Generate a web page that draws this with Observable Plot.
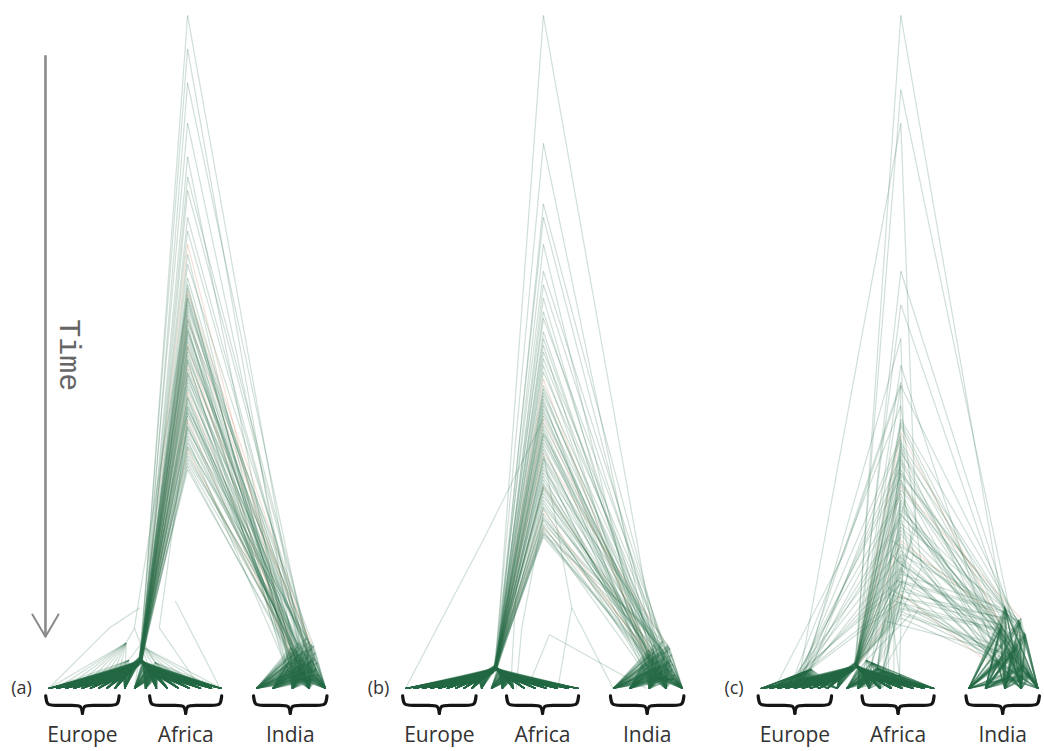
<!DOCTYPE html>
<html><head><meta charset="utf-8">
<script src="https://cdn.jsdelivr.net/npm/d3@7"></script>
<script src="https://cdn.jsdelivr.net/npm/@observablehq/plot@0.6"></script>
<style>html,body{margin:0;padding:0;background:#fff;overflow:hidden}#chart{position:absolute;left:0;top:0}</style>
</head><body><div id="chart"></div>
<script>
// ---- data (x in leaf units within a panel, y = time height above the leaves) ----
const panels = ["(a)", "(b)", "(c)"];
const panelOffset = [0, 128.8, 257.1];
const rootX = [50.2, 49.8, 50.5];
const europeLeaves = [0, 3, 6, 9, 12, 15, 18, 21, 24, 27.5];
const africaLeaves = [31, 35, 39, 43, 47, 51, 55, 59, 62.5];
const indiaLeaves = [75, 81, 88, 94, 100];
const regions = ["Europe", "Africa", "India"];
const regionSpan = [[-1, 25.5], [36.5, 62.5], [74, 100.5]];
// inner nodes of the Europe and Africa clades (offset from the Europe+Africa node, height share)
const europeNodeDX = [-3, -5, -1.5, -6, -2.5, -4, -1, -5.5];
const europeNodeH = [0.75, 0.6, 0.85, 0.5, 0.8, 0.65, 0.9, 0.55];
const africaNodeDX = [2.5, 4.5, 1.5, 6, 3, 5, 1, 3.5];
const africaNodeH = [0.7, 0.55, 0.85, 0.5, 0.75, 0.6, 0.9, 0.65];
// Africa clade node in trees of the ((Africa,India),Europe) kind
const africaCladeX = [42, 46, 40, 48, 44, 50, 38, 45];
const africaCladeH = [3.0, 2.2, 3.8, 1.8, 2.6, 2.0, 4.2, 2.4];

// tree rows: [rootHeight, eaNodeX, eaNodeH, indiaNodeX, indiaNodeH, topology]
// topology 0 = ((Europe,Africa),India), 1 = same with second colour,
// 2 = ((Africa,India),Europe): [rootH, europeX, europeH, indiaX, indiaH, 2, afrIndX, afrIndH]
const treesA = [
[100,33.2,4.2,92.3,3.1,0],[95,33.0,4.5,88.6,5.2,0],[90,33.5,4.0,95.4,1.9,0],[84,32.8,4.4,90.1,6.8,0],
[79,33.3,4.1,86.7,4.0,0],[74,33.6,3.9,97.2,1.3,0],[70,33.1,4.3,93.5,4.7,0],[66,32.9,4.6,89.4,2.6,1],
[63,33.4,4.0,94.8,5.9,0],[61,33.2,4.2,91.1,3.6,0],[60,33.0,4.4,87.9,2.2,0],[59,33.5,3.8,96.1,4.4,1],
[58,33.1,4.2,90.8,1.6,0],[57,32.7,4.7,93.0,7.5,0],[56,33.3,4.1,88.1,3.3,0],[55,33.6,3.9,95.9,2.8,1],
[54.5,33.0,4.3,91.7,5.5,0],[54,33.2,4.2,86.2,2.0,0],[53,33.4,4.0,94.2,3.9,0],[52.5,32.9,4.5,89.9,6.2,0],
[52,33.1,4.3,92.8,1.5,0],[51,33.5,3.9,87.4,4.8,1],[50.5,33.2,4.2,96.6,3.0,0],[50,33.0,4.4,90.5,2.4,0],
[49,33.3,4.1,93.8,5.0,0],[48.5,33.7,3.7,88.9,1.8,0],[48,33.1,4.3,95.0,6.5,1],[47,32.8,4.6,91.4,2.9,0],
[46.5,33.4,4.0,86.9,3.7,0],[46,33.2,4.2,97.5,2.1,0],[45,33.0,4.4,92.0,4.2,0],[44,33.5,3.9,89.1,5.8,1],
[43.5,33.1,4.3,94.5,1.4,0],[43,33.3,4.1,90.3,3.4,0],[42,32.9,4.5,87.6,6.0,0],[41.5,33.6,3.8,95.6,4.6,0],
[41,33.2,4.2,91.9,2.3,0],[40,33.0,4.4,88.3,3.9,1],[39,33.4,4.0,93.3,1.7,0],[38.5,33.1,4.3,96.3,5.3,0],
[38,32.8,4.6,90.0,4.9,0],[37,33.3,4.1,86.4,2.7,0],[36,33.5,3.9,94.0,6.9,0],[35.5,33.2,4.2,92.6,2.0,1],
[35,33.0,4.4,89.6,4.3,0],[34,33.4,4.0,95.2,3.2,0],[33,33.1,4.3,91.0,1.9,0],[32.5,33.2,4.2,87.2,5.4,0],
[58,31.0,9.0,93.6,3.5,0],[41,34.0,7.0,96.8,1.6,0],
[59.5,33.3,4.1,88.4,2.5,0],[58.5,33.0,4.4,92.9,5.7,0],[57.5,33.4,4.0,90.6,3.0,0],[56.5,33.1,4.3,94.9,4.1,0],
[55.5,32.9,4.5,87.0,2.1,0],[54.8,33.5,3.9,95.7,6.3,0],[53.5,33.2,4.2,91.6,1.5,0],[53.2,33.0,4.4,89.2,4.5,0],
[51.5,33.4,4.0,93.1,2.6,0],[50.8,33.1,4.3,97.0,3.8,0],[49.5,33.3,4.1,90.4,5.1,0],[48.8,32.8,4.6,86.0,3.3,0],
[47.5,33.5,3.9,94.3,1.8,0],[46.8,33.2,4.2,92.1,6.6,0],[45.5,33.0,4.4,88.8,2.9,0],[44.5,33.4,4.0,95.3,4.0,0],
[43.2,33.1,4.3,91.3,2.2,0],[42.5,33.3,4.1,87.8,4.9,0],[41.8,32.9,4.5,93.9,3.6,0],[40.5,33.6,3.8,96.0,1.4,0],
[39.5,33.2,4.2,89.5,5.6,0],[38.8,33.0,4.4,92.4,2.4,0],[37.5,33.4,4.0,90.9,4.4,0],[36.5,33.1,4.3,94.7,3.1,0],
[35.8,33.3,4.1,87.3,6.1,0],[34.5,32.8,4.6,95.8,2.0,0],[33.5,33.5,3.9,91.8,3.7,0],[64.5,33.2,4.2,88.0,1.7,0],
[68,33.0,4.4,93.4,5.2,0],[76,33.3,4.1,96.5,2.7,0]
];
const treesB = [
[100,32.5,3.0,91.5,3.4,0],[81,32.2,3.3,88.2,5.0,0],[72,32.8,2.8,95.1,2.1,0],[70,32.4,3.1,89.8,6.5,0],
[66,32.6,2.9,86.5,3.8,0],[62,32.1,3.4,96.9,1.5,0],[60,32.9,2.7,93.2,4.5,0],[58,32.5,3.0,89.0,2.8,0],
[55,32.3,3.2,94.4,5.6,0],[53,32.7,2.9,90.7,3.2,0],[51,32.4,3.1,87.5,2.4,0],[50,32.6,2.9,95.8,4.1,0],
[48,32.2,3.3,90.4,1.8,0],[47,32.8,2.8,92.7,7.0,0],[46,32.5,3.0,88.5,3.0,1],[45,32.3,3.2,96.2,2.6,0],
[44,32.7,2.9,91.2,5.2,0],[43,32.4,3.1,86.8,2.2,0],[42,32.6,2.9,93.9,3.6,0],[41,32.1,3.4,89.3,5.9,0],
[40,32.9,2.7,92.5,1.7,1],[39,32.5,3.0,87.1,4.6,0],[38,32.3,3.2,96.4,2.9,0],[37.5,32.7,2.9,90.2,2.3,0],
[37,32.4,3.1,93.6,4.8,0],[36,32.6,2.9,88.7,1.9,0],[35,32.2,3.3,94.8,6.2,1],[34,32.8,2.8,91.0,2.7,0],
[33,32.5,3.0,87.0,3.5,0],[32,32.3,3.2,97.3,2.0,0],[31,32.7,2.9,91.8,4.0,0],[30,32.4,3.1,89.4,5.5,1],
[29.5,32.6,2.9,94.1,1.6,0],[29,32.1,3.4,90.0,3.1,0],[28,32.9,2.7,87.7,5.7,0],[27,32.5,3.0,95.5,4.3,0],
[26.5,32.3,3.2,92.2,2.1,1],[26,32.7,2.9,88.0,3.7,0],[25,32.4,3.1,93.0,1.5,0],[24.5,32.6,2.9,96.0,5.0,0],
[24,32.2,3.3,89.7,4.6,1],[23.5,32.8,2.8,86.3,2.5,0],[23,32.5,3.0,94.6,6.4,0],[22.5,32.4,3.1,92.9,1.9,0],
[44.5,32.5,3.0,89.1,4.0,0],[43.5,32.3,3.2,95.0,3.0,0],[42.5,32.7,2.9,90.8,1.7,0],[41.5,32.4,3.1,87.4,5.1,0],
[40.5,32.6,2.9,93.3,3.3,0],[39.5,32.2,3.3,96.7,1.5,0],[38.5,32.8,2.8,88.3,2.3,0],[36.5,32.5,3.0,92.6,5.4,0],
[35.5,32.3,3.2,90.5,2.8,0],[34.5,32.7,2.9,94.3,3.9,0],[33.5,32.4,3.1,86.9,2.0,0],[32.5,32.6,2.9,95.4,6.0,0],
[31.5,32.2,3.3,91.4,1.5,0],[30.5,32.8,2.8,89.5,4.2,0],[30.2,32.5,3.0,92.8,2.5,0],[28.5,32.3,3.2,96.5,3.6,0],
[27.5,32.7,2.9,90.1,4.8,0],[26.8,32.4,3.1,86.1,3.1,0],[25.5,32.6,2.9,94.0,1.7,0],[25.2,32.1,3.4,91.9,6.2,0],
[24.2,32.9,2.7,88.6,2.7,0],[23.8,32.5,3.0,95.2,3.8,0],[23.2,32.3,3.2,91.1,2.1,0],[22.8,32.7,2.9,87.9,4.6,0],
[37.8,32.4,3.1,93.7,3.4,0],[34.2,32.6,2.9,96.1,1.5,0],[29.8,32.2,3.3,89.6,5.3,0],[56,32.5,3.0,92.3,2.2,0],
[52,32.3,3.2,90.9,4.1,0],[49,32.7,2.9,94.5,2.9,0]
];
const treesC = [
[100,34.3,3.4,90.2,5.1,0],[89,34.0,3.7,94.1,3.0,0],[84,14,2.0,86.3,8.8,2,56,24],[62,34.5,3.2,96.8,2.2,0],
[57,33.8,3.8,88.4,11.5,0],[52,16,2.5,92.1,6.2,2,52,30],[48,34.3,3.4,85.2,4.1,0],[45,34.6,3.1,95.3,7.7,0],
[42,12,1.8,89.6,1.6,2,58,18],[40,34.1,3.6,93.2,9.6,0],[39,34.4,3.3,90.7,4.6,0],[38,34.0,3.7,94.5,3.3,1],
[37,18,2.8,86.9,9.2,2,50,26],[36,34.5,3.2,97.1,1.9,0],[35,34.2,3.5,88.0,12.2,0],[34,33.9,3.8,91.7,5.8,0],
[33,15,2.2,85.6,3.7,2,47,20],[32,34.3,3.4,95.0,8.3,0],[31,34.6,3.1,89.1,1.4,0],[30,34.0,3.6,93.8,10.4,1],
[29,13,2.0,90.4,5.4,2,55,24],[28,34.4,3.3,94.8,2.7,0],[27,34.1,3.6,86.1,8.5,0],[26,34.5,3.2,96.5,2.4,0],
[25,17,2.6,88.7,11.0,2,49,16],[24,33.8,3.9,92.4,6.6,0],[23,34.3,3.4,85.0,4.4,0],[22,34.6,3.1,95.7,7.2,1],
[21,14,2.1,89.9,1.8,2,53,17],[20,34.0,3.7,93.5,9.9,0],[19.5,34.4,3.3,90.0,4.8,0],[19,34.2,3.5,94.3,3.5,0],
[18,16,2.4,86.6,9.5,2,46,14],[17.5,34.5,3.2,97.4,1.6,0],[17,33.9,3.8,88.2,11.8,0],[16,34.3,3.4,92.0,6.0,0],
[15.5,12,1.7,85.4,3.9,2,57,12],[15,34.1,3.6,95.5,8.0,0],[14,34.6,3.1,89.3,1.5,1],[13.5,34.0,3.7,93.0,10.1,0],
[13,18,2.9,90.9,5.0,2,45,10],[12.5,34.4,3.3,94.0,2.9,0],[12,34.2,3.5,86.4,8.9,0],[11.5,34.5,3.2,96.9,2.1,0],
[11,34.0,3.6,88.5,6.0,0],
[39.5,34.3,3.4,92.3,5.9,0],[37.5,14,2.0,85.1,4.2,2,52,28],[36.5,34.0,3.7,95.2,7.9,0],[35.5,34.5,3.2,89.7,1.7,0],
[34.5,16,2.5,93.4,9.8,2,47,22],[33.5,34.2,3.5,90.5,4.9,0],[32.5,34.4,3.3,94.6,3.2,0],[31.5,13,1.9,86.2,8.7,2,55,20],
[30.5,34.1,3.6,97.0,2.0,0],[29.5,34.6,3.1,88.3,11.7,0],[28.5,17,2.7,92.6,6.4,2,49,19],[27.5,34.0,3.7,85.5,4.0,0],
[26.5,34.3,3.4,95.4,8.1,0],[25.5,15,2.3,89.0,1.5,2,53,21],[24.5,34.5,3.2,93.1,10.2,0],[23.5,34.2,3.5,90.3,5.2,0],
[22.5,12,1.8,94.2,2.8,2,46,15],[21.5,34.4,3.3,86.8,9.1,0],[20.5,34.0,3.7,96.6,2.3,0],[19.8,18,2.9,88.6,11.3,2,51,16],
[18.5,34.3,3.4,92.2,6.1,0],[17.8,34.6,3.1,85.3,3.8,0],[16.5,14,2.1,95.6,7.6,2,48,13],[15.8,34.1,3.6,89.4,1.6,0],
[14.5,34.4,3.3,93.6,9.7,0],[13.8,16,2.5,90.6,4.7,2,54,11],[12.8,34.2,3.5,94.7,3.4,0],[11.8,34.5,3.2,86.0,8.6,0],
[10.5,34.0,3.7,97.2,1.8,0],[45.5,15,2.3,88.1,11.9,2,50,32]
];
// odd branches of rarer trees: [x1, h1, x2, h2]
const extraA = [[45.8,13,62,0],[40,9,55,0],[50.2,40,40,9],[0,0,22,9],[22,9,33,12]];
const extraB = [[0,0,28,22],[28,22,49.8,40],[38,0,40,15],[40,15,49.8,30],[55,0,60,12],[60,12,75,0],
                [60,12,49.8,35],[44,0,52,8],[52,8,87,0],[40,0,42,9],[42,9,49.8,26]];
const extraC = [[5,0,30,20],[30,20,50.5,45]];

// ---- build links ----
const links = [];
function add(p, x1, h1, x2, h2, topo) {
  links.push({x1: panelOffset[p] + x1, y1: h1, x2: panelOffset[p] + x2, y2: h2, topo});
}
[treesA, treesB, treesC].forEach((trees, p) => {
  const rx = rootX[p];
  trees.forEach((t, i) => {
    const [hr, ex, eh, ix, ih, topo, ax, ah] = t;
    const v = i % europeNodeDX.length;
    if (topo === 2) {
      add(p, rx, hr, ex, eh, 0);
      europeLeaves.forEach(l => add(p, ex, eh, l, 0, 0));
      add(p, rx, hr, ax, ah, 0);
      const cx = africaCladeX[v], ch = africaCladeH[v];
      add(p, ax, ah, cx, ch, 0);
      africaLeaves.forEach(l => add(p, cx, ch, l, 0, 0));
      add(p, ax, ah, ix, ih, 0);
      indiaLeaves.forEach(l => add(p, ix, ih, l, 0, 0));
    } else {
      add(p, rx, hr, ex, eh, topo);
      const enx = ex + europeNodeDX[v], enh = eh * europeNodeH[v];
      const anx = ex + africaNodeDX[v], anh = eh * africaNodeH[v];
      add(p, ex, eh, enx, enh, 0);
      add(p, ex, eh, anx, anh, 0);
      europeLeaves.forEach(l => add(p, enx, enh, l, 0, 0));
      africaLeaves.forEach(l => add(p, anx, anh, l, 0, 0));
      add(p, rx, hr, ix, ih, topo);
      indiaLeaves.forEach(l => add(p, ix, ih, l, 0, 0));
    }
  });
});
[extraA, extraB, extraC].forEach((ex, p) => ex.forEach(e => add(p, e[0], e[1], e[2], e[3], 0)));
links.sort((a, b) => b.topo - a.topo);

// braces
const braces = [];
panels.forEach((pl, p) => regionSpan.forEach(([l, r], k) => {
  const o = panelOffset[p], m = (l + r) / 2;
  const left = [[l, -1.1], [l + 0.4, -2.5], [l + 3, -2.5], [m - 3, -2.5], [m - 0.4, -2.5], [m, -3.7]];
  const right = [[r, -1.1], [r - 0.4, -2.5], [r - 3, -2.5], [m + 3, -2.5], [m + 0.4, -2.5], [m, -3.7]];
  left.forEach(([x, y]) => braces.push({x: o + x, y, z: `${p}-${k}-L`}));
  right.forEach(([x, y]) => braces.push({x: o + x, y, z: `${p}-${k}-R`}));
}));
const regionLabels = [];
panels.forEach((pl, p) => regions.forEach((r, k) => regionLabels.push({x: panelOffset[p] + (regionSpan[k][0] + regionSpan[k][1]) / 2, text: r})));
const panelLabels = panels.map((t, p) => ({x: panelOffset[p] - 9.7, text: t}));

const timeArrow = {x: -1.1, from: 94.1, to: 7.7};
const chevron = [
  {x: timeArrow.x - 4.7, y: timeArrow.to + 3.3},
  {x: timeArrow.x, y: timeArrow.to},
  {x: timeArrow.x + 4.7, y: timeArrow.to + 3.3}
];

const chart = Plot.plot({
  width: 1044, height: 751,
  margin: 0,
  x: {domain: [0, 358], range: [48, 1040], axis: null},
  y: {domain: [0, 100], range: [688, 15], axis: null},
  marks: [
    Plot.link(links, {x1: "x1", y1: "y1", x2: "x2", y2: "y2",
      stroke: d => d.topo === 1 ? "#c2743f" : "#2a6e48",
      strokeOpacity: d => d.topo === 1 ? 0.2 : 0.22, strokeWidth: 1.2}),
    Plot.link([timeArrow], {x1: "x", x2: "x", y1: "from", y2: "to", stroke: "#8a8a8a", strokeWidth: 2.6}),
    Plot.line(chevron, {x: "x", y: "y", stroke: "#8a8a8a", strokeWidth: 2}),
    Plot.text(["Time"], {x: timeArrow.x + 8.7, y: 49.5, text: d => d, rotate: 90,
      fontFamily: "Liberation Mono, DejaVu Sans Mono, monospace", fontSize: 30, fill: "#666"}),
    Plot.line(braces, {x: "x", y: "y", z: "z", curve: "basis", stroke: "#151515", strokeWidth: 3.2, strokeLinecap: "round"}),
    Plot.text(regionLabels, {x: "x", y: -7.88, text: "text", lineAnchor: "bottom",
      fontFamily: "Open Sans, sans-serif", fontSize: 21, fill: "#333"}),
    Plot.text(panelLabels, {x: "x", y: 0, text: "text",
      fontFamily: "Open Sans, sans-serif", fontSize: 18, fill: "#333"})
  ]
});
document.getElementById("chart").appendChild(chart);
</script>
</body></html>
